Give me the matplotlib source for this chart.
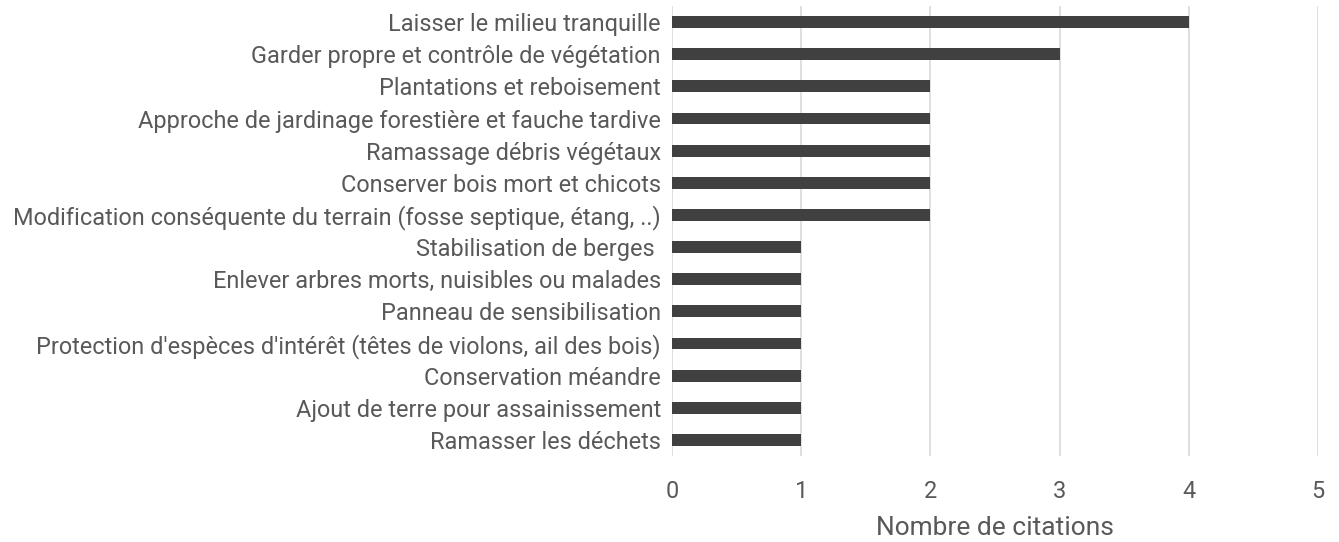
import matplotlib.pyplot as plt

categories = [
    "Laisser le milieu tranquille",
    "Garder propre et contrôle de végétation",
    "Plantations et reboisement",
    "Approche de jardinage forestière et fauche tardive",
    "Ramassage débris végétaux",
    "Conserver bois mort et chicots",
    "Modification conséquente du terrain (fosse septique, étang, ..)",
    "Stabilisation de berges ",
    "Enlever arbres morts, nuisibles ou malades",
    "Panneau de sensibilisation",
    "Protection d'espèces d'intérêt (têtes de violons, ail des bois)",
    "Conservation méandre",
    "Ajout de terre pour assainissement",
    "Ramasser les déchets",
]
citations = [4, 3, 2, 2, 2, 2, 2, 1, 1, 1, 1, 1, 1, 1]
xticks = [0, 1, 2, 3, 4, 5]

text_color = "#595959"
plt.rcParams["font.family"] = ["Roboto", "DejaVu Sans"]

fig = plt.figure(figsize=(13.39, 5.42), dpi=100)
ax = fig.add_axes([0.5019, 0.1587, 0.4824, 0.8302])

y = list(range(len(categories)))
ax.barh(y, citations, height=0.37, color="#404040", zorder=3)
ax.set_ylim(len(categories) - 0.5, -0.5)
ax.set_yticks(y)
ax.set_yticklabels(categories, fontsize=16.9, color=text_color)
ax.set_xlim(0, 5)
ax.set_xticks(xticks)
ax.set_xticklabels([str(t) for t in xticks], fontsize=16.9, color=text_color)
ax.tick_params(axis="both", length=0)
ax.tick_params(axis="y", pad=8)
ax.tick_params(axis="x", pad=17)
ax.grid(axis="x", color="#d9d9d9", linewidth=1.2, zorder=0)
for s in ax.spines.values():
    s.set_visible(False)
ax.set_xlabel("Nombre de citations", fontsize=19, color=text_color, labelpad=10)

fig.savefig("out.png", dpi=100)
